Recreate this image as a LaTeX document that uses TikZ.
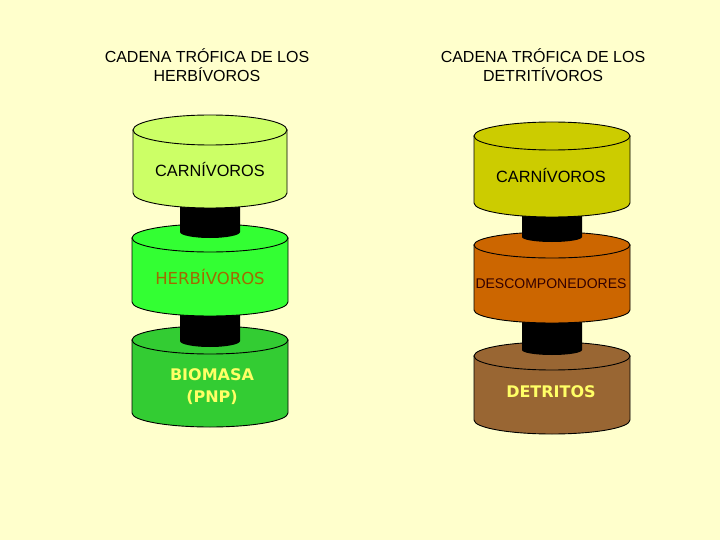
\documentclass[tikz,border=0pt]{standalone}
\usepackage{fontspec}
\setmainfont{Liberation Sans}
\newfontfamily\dvs{DejaVu Sans}
\definecolor{bgc}{HTML}{FFFFCC}
\definecolor{lgreen}{HTML}{CCFF66}
\definecolor{bgreen}{HTML}{33FF33}
\definecolor{mgreen}{HTML}{33CC33}
\definecolor{olivey}{HTML}{CCCC00}
\definecolor{orangeb}{HTML}{CC6600}
\definecolor{brownc}{HTML}{996633}
\definecolor{herbtxt}{HTML}{A06A00}
\definecolor{yeltxt}{HTML}{FFFF66}
\definecolor{darktxt}{HTML}{330000}
\newcommand{\cylbody}[6]{%
  \filldraw[fill=#6, cylline] (#1-#4,#2) -- (#1-#4,#3)
    arc[start angle=180, end angle=0, x radius=#4, y radius=#5] -- (#1+#4,#2) -- cycle;
  \filldraw[fill=#6, cylline] (#1,#2) ellipse[x radius=#4, y radius=#5];}
\newcommand{\connector}[4]{%
  \fill[black] (#1-30,#2) -- (#1-30,#3)
    arc[start angle=180, end angle=0, x radius=30, y radius=#4] -- (#1+30,#2) -- cycle;}
\begin{document}
\begin{tikzpicture}[x=1pt, y=-1pt,
  cylline/.style={draw=black, line width=0.9pt},
  title/.style={font=\fontsize{16}{19}\selectfont, align=center, text=black},
  lab/.style={font=\fontsize{16.3}{19}\selectfont, align=center}]
\fill[bgc] (0,0) rectangle (720,540);
\useasboundingbox (0,0) rectangle (720,540);
% left column
\cylbody{210}{340}{413}{78}{14}{mgreen}
\connector{210}{300}{341}{6}
\cylbody{210}{238}{302}{78}{14}{bgreen}
\connector{210}{190}{232}{6}
\cylbody{210}{130}{193}{77}{15}{lgreen}
% right column
\cylbody{552}{356}{420}{78}{14}{brownc}
\connector{552}{308}{350}{5}
\cylbody{552}{245}{310}{78}{13}{orangeb}
\connector{552}{200}{237}{5}
\cylbody{552}{136}{203}{78}{14}{olivey}
% titles
\node[title] (t1) at (207,65.5) {CADENA TRÓFICA DE LOS\\HERBÍVOROS};
\node[title] (t2) at (543,65.5) {CADENA TRÓFICA DE LOS\\DETRITÍVOROS};
% labels
\node[lab, text=black] (carn1) at (210,170) {CARNÍVOROS};
\node[lab, text=herbtxt, font=\dvs\fontsize{16.5}{19}\selectfont] (herb) at (210,277) {HERBÍVOROS};
\node[lab, text=yeltxt, font=\dvs\bfseries\fontsize{16}{22}\selectfont] (bio) at (212,387) {BIOMASA\\(PNP)};
\node[lab, text=black] (carn2) at (551,176) {CARNÍVOROS};
\node[lab, text=darktxt, font=\fontsize{14}{17}\selectfont] (desc) at (551,284) {DESCOMPONEDORES};
\node[lab, text=yeltxt, font=\dvs\bfseries\fontsize{16}{19}\selectfont] (detr) at (551,392) {DETRITOS};
\end{tikzpicture}
\end{document}
